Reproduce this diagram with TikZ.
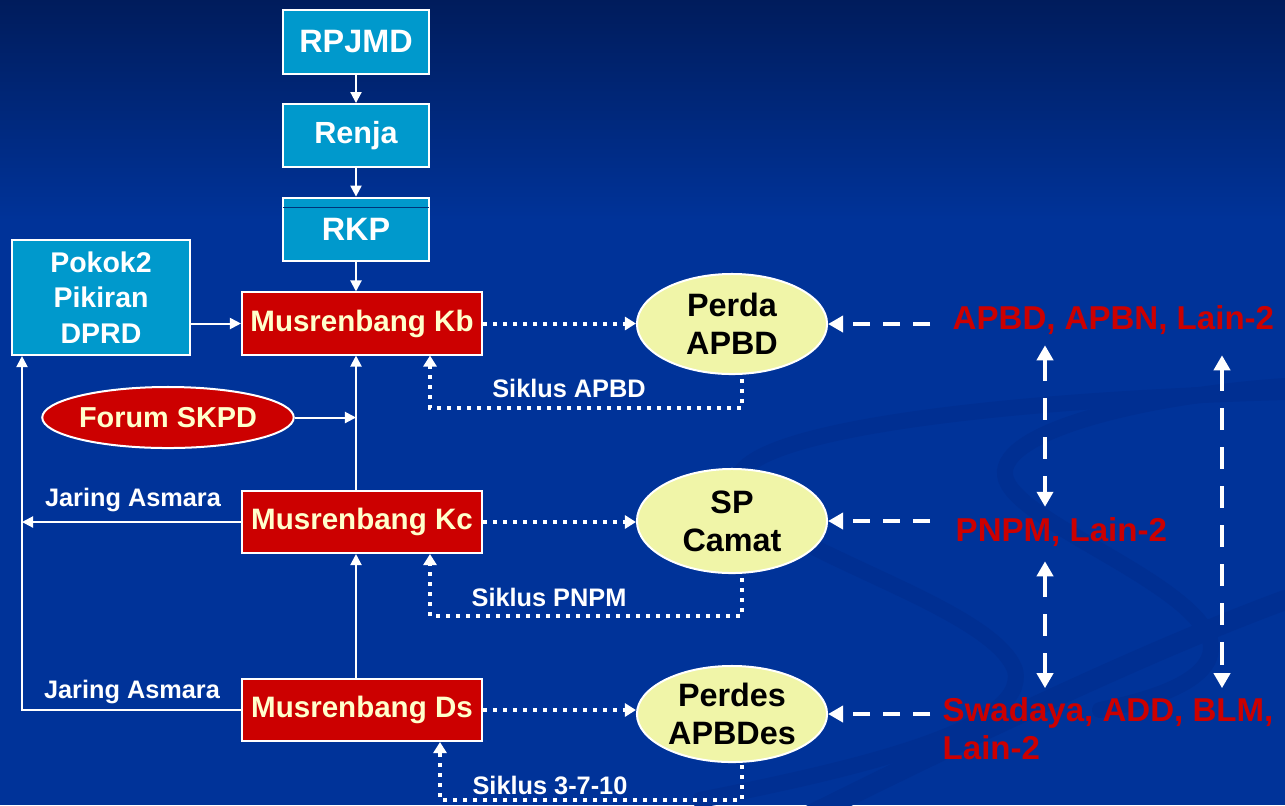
\documentclass[tikz,border=0pt]{standalone}
\usepackage{fontspec}
\setmainfont{Liberation Sans}
\usetikzlibrary{shapes.geometric,arrows.meta,positioning,calc}
\definecolor{bgtop}{RGB}{0,28,92}
\definecolor{bgblue}{RGB}{0,51,153}
\definecolor{bgswoosh}{RGB}{0,47,146}
\definecolor{boxcyan}{RGB}{0,153,204}
\definecolor{musred}{RGB}{204,0,0}
\definecolor{txtyellow}{RGB}{255,255,204}
\definecolor{ovalfill}{RGB}{240,245,168}
\definecolor{rkpline}{RGB}{0,51,120}

\begin{document}
\begin{tikzpicture}[x=0.01cm,y=-0.01cm,
  planbox/.style = {draw=white, line width=0.02cm, fill=boxcyan, text=white, inner sep=0pt,
    minimum width=1.46cm, minimum height=0.63cm, font=\fontsize{9.2pt}{10.8pt}\selectfont\bfseries},
  musbox/.style = {draw=white, line width=0.02cm, fill=musred, text=txtyellow, inner sep=0pt,
    minimum width=2.40cm, minimum height=0.62cm, font=\fontsize{8.4pt}{10pt}\selectfont\bfseries},
  ovalnode/.style = {ellipse, draw=white, line width=0.02cm, fill=ovalfill, text=black, inner sep=0pt,
    minimum width=1.90cm, minimum height=1.0cm, align=center, font=\fontsize{9.2pt}{10.8pt}\selectfont\bfseries},
  srctext/.style = {text=musred, inner sep=0pt, anchor=west, align=left,
    font=\fontsize{9.4pt}{10.8pt}\selectfont\bfseries},
  smalllabel/.style = {text=white, inner sep=0pt, font=\fontsize{7.2pt}{8pt}\selectfont\bfseries},
  flowarrow/.style = {draw=white, line width=0.02cm, -{Triangle[width=0.11cm,length=0.11cm]}},
  loopline/.style = {draw=white, line width=0.04cm, dash pattern=on 0.04cm off 0.06cm,
    -{Triangle[width=0.13cm,length=0.11cm]}},
  fundline/.style = {draw=white, line width=0.045cm, dash pattern=on 0.17cm off 0.13cm,
    -{Triangle[width=0.16cm,length=0.15cm]}},
  dblfund/.style = {draw=white, line width=0.045cm, dash pattern=on 0.22cm off 0.17cm,
    {Triangle[width=0.16cm,length=0.15cm]}-{Triangle[width=0.16cm,length=0.15cm]}},
  swoosh/.style = {draw=bgswoosh, line width=0.16cm, line cap=round},
  node distance=0.935cm]
  % background
  \useasboundingbox (0,0) rectangle (1285,805);
  \fill[bgblue] (0,0) rectangle (1285,805);
  \shade[top color=bgtop, bottom color=bgblue] (0,0) rectangle (1285,220);
  \draw[swoosh] (1285,392) .. controls (1000,400) and (745,430) .. (738,480)
    .. controls (730,540) and (990,600) .. (1015,670) .. controls (1030,730) and (850,770) .. (700,800);
  \draw[swoosh] (1285,386) .. controls (1150,395) and (1000,430) .. (1005,475)
    .. controls (1010,520) and (1190,580) .. (1210,640) .. controls (1220,680) and (1150,700) .. (1100,710);
  \draw[swoosh, line width=0.2cm] (760,840) .. controls (980,730) and (1150,650) .. (1285,600);

  % planning documents
  \node[planbox] (rpjmd) at (356,42) {RPJMD};
  \node[planbox, font=\fontsize{8.7pt}{10pt}\selectfont\bfseries] (renja) [below of=rpjmd] {Renja};
  \node[planbox] (rkp) [below of=renja] {RKP};
  \draw[rkpline, line width=0.01cm] ($(rkp.north west)+(1,11)$) -- ($(rkp.north east)+(-1,11)$);
  \node[planbox, minimum width=1.78cm, minimum height=1.15cm, align=center,
    font=\fontsize{8.1pt}{10pt}\selectfont\bfseries] (pokok) at (101,297.5) {Pokok2\\Pikiran\\DPRD};

  % musrenbang levels
  \node[musbox] (kb) at (362,323.5) {Musrenbang Kb};
  \node[musbox] (kc) at (362,522) {Musrenbang Kc};
  \node[musbox] (ds) at (362,710) {Musrenbang Ds};
  \node[ellipse, draw=white, line width=0.02cm, fill=musred, text=txtyellow, inner sep=0pt,
    minimum width=2.5cm, minimum height=0.61cm, font=\fontsize{8.2pt}{10pt}\selectfont\bfseries]
    (forum) at (168,417.5) {Forum SKPD};

  % results
  \node[ovalnode] (perda) at (732,324) {Perda\\APBD};
  \node[ovalnode, minimum height=1.04cm] (spcamat) at (732,521) {SP\\Camat};
  \node[ovalnode, minimum height=0.96cm] (perdes) at (732,714) {Perdes\\APBDes};

  % funding sources
  \node[srctext] (src1) at (952,320) {APBD, APBN, Lain-2};
  \node[srctext] (src2) at (955,532) {PNPM, Lain-2};
  \node[srctext] (src3) at (942,729) {Swadaya, ADD, BLM,\\Lain-2};

  \coordinate (lft) at (22,0);
  \coordinate (v1) at (1045,0);
  \coordinate (v2) at (1222,0);

  % labels
  \node[smalllabel] (jaring1) at (133,500) {Jaring Asmara};
  \node[smalllabel] (jaring2) at (132,692) {Jaring Asmara};
  \node[smalllabel] (siklus1) at (569,388) {Siklus APBD};
  \node[smalllabel] (siklus2) at (549,597) {Siklus PNPM};
  \node[smalllabel] (siklus3) at (550,785) {Siklus 3-7-10};

  % solid connectors
  \draw[flowarrow] (rpjmd) -- (renja);
  \draw[flowarrow] (renja) -- (rkp);
  \draw[flowarrow] (rkp) -- (rkp.south |- kb.north);
  \draw[flowarrow] (pokok.east |- kb.west) -- (kb.west);
  \draw[flowarrow] (forum.east) -- (forum.east -| rkp.south);
  \draw[flowarrow] (rkp.south |- kc.north) -- (rkp.south |- kb.south);
  \draw[flowarrow] (rkp.south |- ds.north) -- (rkp.south |- kc.south);
  \draw[flowarrow] (kc.west) -- (kc.west -| lft);
  \draw[flowarrow] (ds.west) -| (lft |- pokok.south);

  % dotted cycles
  \draw[loopline] (kb.east) -- (kb.east -| perda.west);
  \draw[loopline] (kc.east) -- (kc.east -| spcamat.west);
  \draw[loopline] (ds.east) -- (ds.east -| perdes.west);
  \draw[loopline] ($(perda.south)+(10,4)$) -- ++(0,29) -| ($(kb.south)+(68,0)$);
  \draw[loopline] ($(spcamat.south)+(10,4)$) -- ++(0,38) -| ($(kc.south)+(68,0)$);
  \draw[loopline] ($(perdes.south)+(10,2)$) -- ++(0,35) -| ($(ds.south)+(78,0)$);

  % dashed funding
  \draw[fundline, shorten <=0.22cm] (perda.east -| src1.west) -- (perda.east);
  \draw[fundline, shorten <=0.25cm] (spcamat.east -| src2.west) -- (spcamat.east);
  \draw[fundline, shorten <=0.12cm] (perdes.east -| src3.west) -- (perdes.east);
  \draw[dblfund, shorten <=0.1cm, shorten >=0.1cm] (v1 |- src1.south) -- (v1 |- src2.north);
  \draw[dblfund, shorten <=0.14cm, shorten >=0.09cm] (v1 |- src2.south) -- (v1 |- src3.north);
  \draw[dblfund, shorten <=0.2cm, shorten >=0.09cm] (v2 |- src1.south) -- (v2 |- src3.north);
\end{tikzpicture}
\end{document}
